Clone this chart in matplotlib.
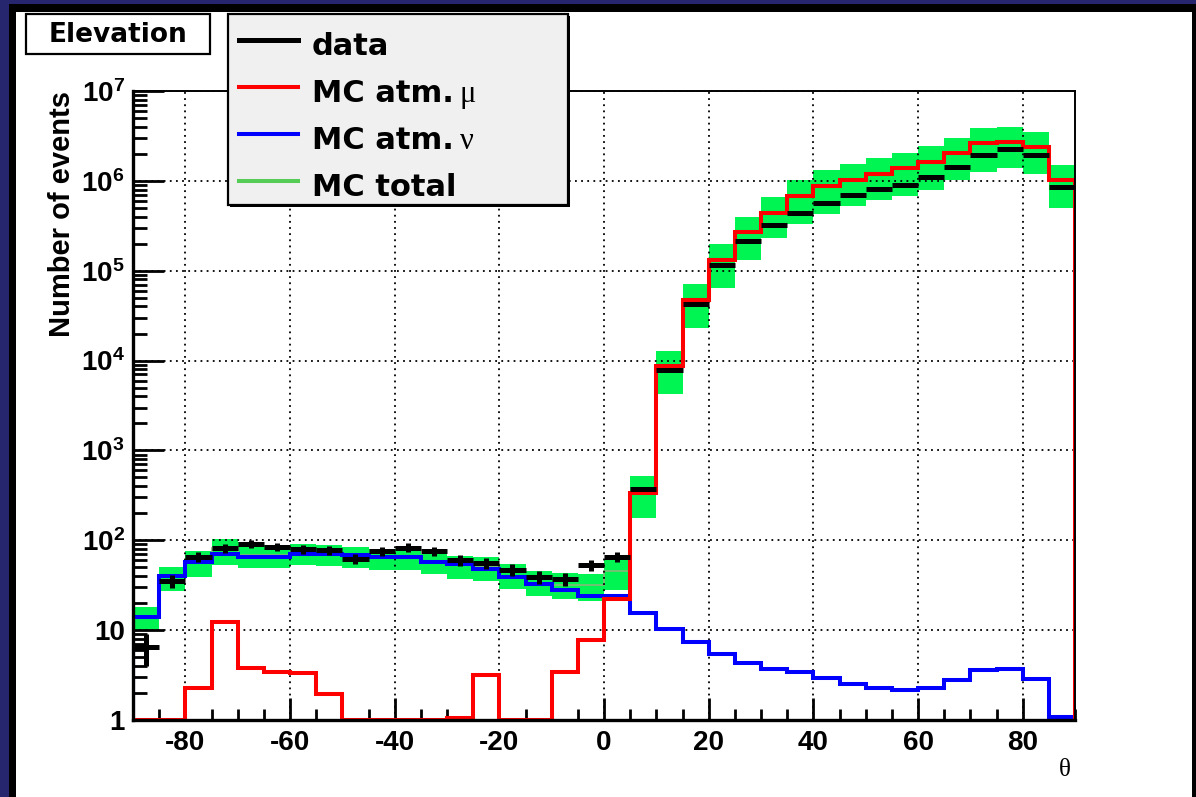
import numpy as np
import matplotlib
matplotlib.use("Agg")
import matplotlib.pyplot as plt
from matplotlib.patches import Rectangle
from matplotlib.lines import Line2D

# elevation bins, 5 degree wide
theta_edges = np.arange(-90, 91, 5)

# event counts per bin
data_counts = [6.5, 35, 66, 82, 91, 85, 80, 78, 62, 76, 83, 76, 60, 56, 47, 39, 37, 53,
               66, 369, 7850, 42600, 116700, 214000, 323000, 435000, 562000, 695000,
               811000, 899000, 1.10e6, 1.42e6, 1.94e6, 2.26e6, 1.94e6, 848000]
mc_atm_mu = [0, 0, 2.25, 12.2, 3.76, 3.4, 3.3, 1.93, 0, 0, 0, 0, 1.05, 3.2, 0, 0, 3.4, 7.7,
             22, 333, 8700, 47200, 131500, 267000, 442000, 678000, 883000, 1.02e6,
             1.18e6, 1.40e6, 1.63e6, 2.02e6, 2.62e6, 2.73e6, 2.36e6, 1.02e6]
mc_atm_nu = [14.1, 40.3, 57.8, 70, 65.7, 65.7, 70, 70, 68, 65.7, 66, 57, 54, 48, 39, 33,
             28, 24, 24, 15.6, 10.3, 7.3, 5.4, 4.3, 3.7, 3.4, 2.9, 2.5, 2.25, 2.16, 2.25,
             2.76, 3.57, 3.7, 2.88, 1.09]
# MC total uncertainty band (low / high edge)
mc_total_lo = [10, 27, 39, 53, 49, 48.6, 53, 52, 49.6, 46.7, 46.7, 42, 37, 35, 29, 24, 22,
               21, 28, 176, 4250, 23200, 64700, 131500, 233000, 328000, 424000, 525000,
               612000, 678000, 791000, 1.02e6, 1.26e6, 1.38e6, 1.18e6, 502000]
mc_total_hi = [18.3, 50, 76, 103, 96, 88, 92, 88, 85, 81, 81, 71, 67, 65, 55, 46, 43, 42,
               60, 519, 12900, 70600, 197000, 398000, 667000, 1.02e6, 1.32e6, 1.54e6,
               1.78e6, 2.06e6, 2.44e6, 2.97e6, 3.85e6, 3.98e6, 3.47e6, 1.5e6]

x_ticks = [-80, -60, -40, -20, 0, 20, 40, 60, 80]
y_ticks = [1, 10, 1e2, 1e3, 1e4, 1e5, 1e6, 1e7]
y_tick_labels = ["1", "10"] + [r"$\mathregular{10^{%d}}$" % k for k in range(2, 8)]

legend_labels = ["data", "MC atm.", "MC atm.", "MC total"]
legend_greek = ["", "\u03bc", "\u03bd", ""]

plt.rcParams["font.family"] = ["Liberation Sans", "DejaVu Sans"]
plt.rcParams["font.weight"] = "bold"
plt.rcParams["axes.unicode_minus"] = False
plt.rcParams["mathtext.fontset"] = "custom"
plt.rcParams["mathtext.rm"] = "Liberation Sans:bold"

W, H = 1196, 797
fig = plt.figure(figsize=(W / 100, H / 100), dpi=100)
fig.patch.set_facecolor("#26266e")


def px(x, y):
    return x / W, 1 - y / H


def box(x0, y0, x1, y1, **kw):
    r = Rectangle(px(x0, y1), (x1 - x0) / W, (y1 - y0) / H, transform=fig.transFigure, **kw)
    fig.add_artist(r)
    return r


# slide canvas
box(9, 4, 1210, 810, facecolor="black", edgecolor="none", zorder=0)
box(16, 12, 1192, 810, facecolor="white", edgecolor="none", zorder=0)

ax = fig.add_axes([133 / W, 1 - 720 / H, (1075 - 133) / W, (720 - 91) / H])
ax.set_zorder(1)

edges = theta_edges
centers = 0.5 * (edges[:-1] + edges[1:])
data = np.array(data_counts, dtype=float)
mu = np.array(mc_atm_mu, dtype=float)
nu = np.array(mc_atm_nu, dtype=float)
lo = np.array(mc_total_lo, dtype=float)
hi = np.array(mc_total_hi, dtype=float)
ymin = 1.0

green = "#00f552"
ax.bar(centers, hi - lo, bottom=lo, width=5, color=green, linewidth=0, zorder=1)
ax.stairs(mu + nu, edges, color="#86b878", linewidth=1.2, zorder=1.2)
ax.stairs(np.where(nu > 0, nu, ymin), edges, color="#0000ff", linewidth=2.9, zorder=2)
ax.stairs(np.where(mu > 0, mu, ymin), edges, color="#ff0000", linewidth=2.9, zorder=2.1)
ax.errorbar(centers, data, xerr=2.5, yerr=np.sqrt(data), fmt="none", ecolor="black",
            elinewidth=3.6, capsize=0, zorder=3)

ax.set_yscale("log")
ax.set_xlim(-90, 90)
ax.set_ylim(1, 1e7)
ax.set_xticks(x_ticks)
ax.set_xticks(np.arange(-90, 91, 5), minor=True)
ax.set_yticks(y_ticks, y_tick_labels)
ax.yaxis.set_minor_formatter(matplotlib.ticker.NullFormatter())
ax.tick_params(which="both", direction="in", top=False, right=False, labelsize=20,
               width=2)
ax.tick_params(which="major", length=16)
ax.tick_params(which="minor", length=8)
ax.tick_params(axis="y", which="major", length=22, pad=6)
ax.tick_params(axis="y", which="minor", length=10)
ax.tick_params(axis="x", pad=7)
ax.set_axisbelow("line")
ax.grid(True, which="major", color="black", linestyle=(0, (1, 2.4)), linewidth=1.3)

for side in ["left", "bottom"]:
    ax.spines[side].set_linewidth(2.4)
for side in ["top", "right"]:
    ax.spines[side].set_linewidth(1.4)

ax.set_ylabel("Number of events", fontsize=21, fontweight="bold", loc="top")
ax.yaxis.set_label_coords(-0.061, 1.0)
ax.set_xlabel("\u03b8", fontsize=18, fontweight="normal", family="Liberation Serif",
              loc="right")
ax.xaxis.set_label_coords(0.995, -0.062)

# title box
box(26, 14, 210, 54, facecolor="white", edgecolor="black", linewidth=1.6, zorder=5)
fig.text(*px(118, 35), "Elevation", ha="center", va="center", fontsize=19,
         fontweight="bold", family="DejaVu Sans", zorder=6)

# legend
box(230, 16, 570, 207, facecolor="black", edgecolor="none", zorder=5)
box(228, 14, 568, 205, facecolor="#f0f0f0", edgecolor="black", linewidth=1.6, zorder=5)
legend_colors = ["black", "#ff0000", "#0000ff", "#55cc55"]
legend_widths = [3.6, 2.9, 2.9, 2.9]
renderer = fig.canvas.get_renderer()
for i, (lab, greek) in enumerate(zip(legend_labels, legend_greek)):
    yl = 40 + 47 * i
    x0, y0 = px(239, yl)
    x1, _ = px(298, yl)
    fig.add_artist(Line2D([x0, x1], [y0, y0], color=legend_colors[i],
                          linewidth=legend_widths[i], transform=fig.transFigure, zorder=6))
    t = fig.text(*px(312, yl + 15), lab, ha="left", va="baseline", fontsize=22,
                 fontweight="bold", family="DejaVu Sans", zorder=6)
    if greek:
        bb = t.get_window_extent(renderer)
        fig.text(bb.x1 / W + 6 / W, 1 - (yl + 15) / H, greek, ha="left", va="baseline",
                 fontsize=22, fontweight="normal", family="Liberation Serif", zorder=6)

fig.savefig("out.png", dpi=100, facecolor=fig.get_facecolor())
